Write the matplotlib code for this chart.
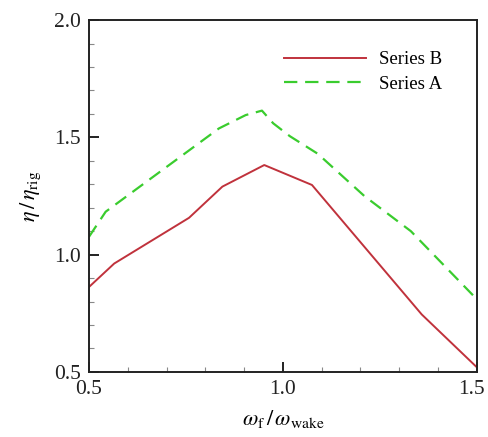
import matplotlib
matplotlib.use("Agg")
import matplotlib.pyplot as plt
from matplotlib.ticker import MultipleLocator
from matplotlib.transforms import ScaledTranslation

plt.rcParams['font.family'] = ['Liberation Serif', 'DejaVu Serif']
plt.rcParams['mathtext.fontset'] = 'stix'

# Data
x_b = [0.5, 0.565, 0.758, 0.844, 0.952, 1.075, 1.358, 1.5]
y_b = [0.862, 0.962, 1.157, 1.29, 1.382, 1.297, 0.745, 0.52]
x_a = [0.5, 0.543, 0.835, 0.904, 0.946, 0.975, 1.018, 1.09, 1.21, 1.33, 1.5]
y_a = [1.076, 1.183, 1.538, 1.595, 1.614, 1.56, 1.505, 1.43, 1.25, 1.10, 0.81]
xticks = [0.5, 1.0, 1.5]
yticks = [0.5, 1.0, 1.5, 2.0]

fig = plt.figure(figsize=(4.89, 4.37), dpi=100)
ax = fig.add_axes([0.182, 0.149, 0.793, 0.805])

ax.plot(x_b, y_b, color='#c0323c', lw=1.4, label='Series B')
ax.plot(x_a, y_a, color='#3acc2e', lw=1.6, dashes=(6, 3.5), label='Series A')

ax.set_xlim(0.5, 1.5)
ax.set_ylim(0.5, 2.0)
ax.set_xticks(xticks)
ax.set_yticks(yticks)
ax.set_xticklabels([f'{v:.1f}' for v in xticks])
ax.set_yticklabels([f'{v:.1f}' for v in yticks])
ax.xaxis.set_minor_locator(MultipleLocator(0.1))
ax.yaxis.set_minor_locator(MultipleLocator(0.1))
ax.tick_params(which='both', direction='in', top=False, right=False, labelsize=15.5, colors='#222222')
ax.tick_params(which='major', length=7, width=1.4, pad=6)
ax.tick_params(which='minor', length=3.5, width=0.8, color='#888888')
for s in ax.spines.values():
    s.set_linewidth(1.4)
    s.set_color('#222222')

# nudge the last x tick label so it stays inside the figure
last = ax.get_xticklabels()[-1]
last.set_transform(last.get_transform() + ScaledTranslation(-5/100, 0, fig.dpi_scale_trans))

ax.set_xlabel(r'$\omega_{\mathrm{f}}\,/\,\omega_{\mathrm{wake}}$', fontsize=16, labelpad=6)
ax.set_ylabel(r'$\eta\,/\,\eta_{\mathrm{rig}}$', fontsize=16, labelpad=8)

ax.legend(loc='upper right', frameon=False, fontsize=13.5, handlelength=4.4,
          handletextpad=0.7, labelspacing=0.4, bbox_to_anchor=(0.955, 0.96))

fig.savefig('out.png', dpi=100)
